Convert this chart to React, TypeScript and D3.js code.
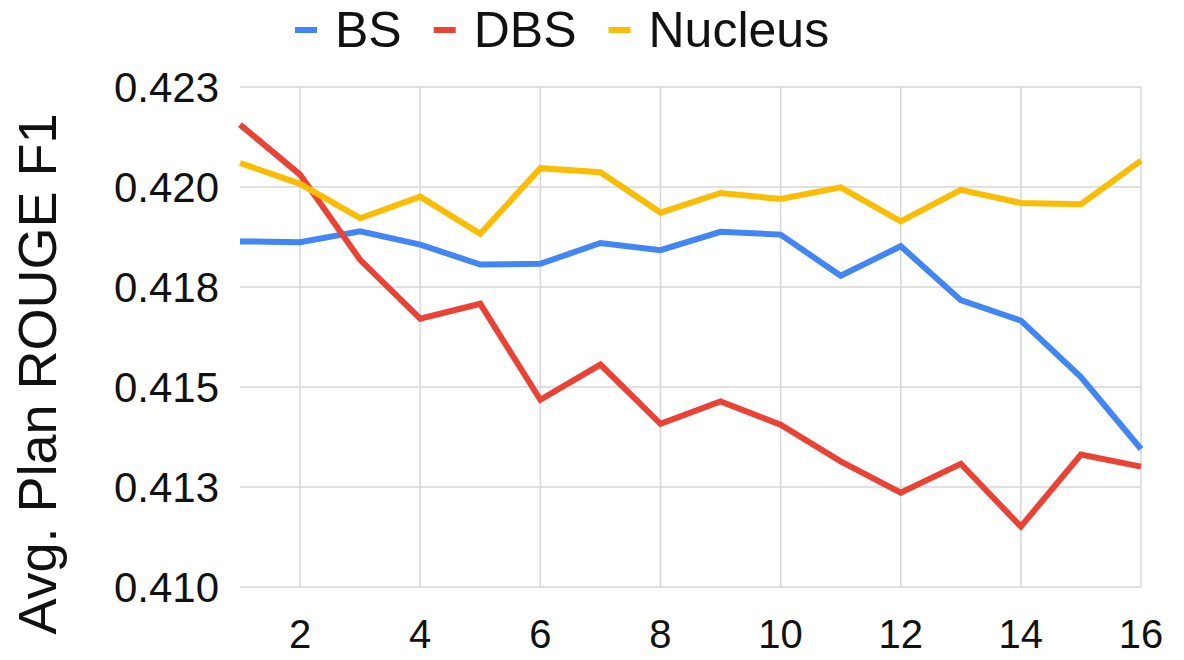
import React, { useRef, useEffect } from 'react';
import * as d3 from 'd3';

// rounds on the x axis
const steps = d3.range(1, 17);

// avg plan ROUGE F1 per series
const bsValues = [0.41864, 0.41862, 0.41889, 0.41856, 0.41806, 0.41808, 0.4186, 0.41842,
  0.41888, 0.41881, 0.41778, 0.41852, 0.41717, 0.41666, 0.41525, 0.41345];
const dbsValues = [0.42156, 0.42031, 0.41818, 0.41671, 0.41708, 0.41468, 0.41556, 0.41408,
  0.41464, 0.41406, 0.41314, 0.41236, 0.41308, 0.41151, 0.41331, 0.41301];
const nucleusValues = [0.4206, 0.42008, 0.41922, 0.41976, 0.41883, 0.42047, 0.42037, 0.41936,
  0.41985, 0.4197, 0.41999, 0.41914, 0.41993, 0.4196, 0.41957, 0.42066];

const seriesNames = ['BS', 'DBS', 'Nucleus'];
const seriesColors = ['#4285F4', '#EA4335', '#FBBC04'];

const xTicks = [2, 4, 6, 8, 10, 12, 14, 16];
const yTicks = [0.41, 0.4125, 0.415, 0.4175, 0.42, 0.4225];
const yTickLabels = ['0.410', '0.413', '0.415', '0.418', '0.420', '0.423'];

const FONT = '"Liberation Sans", Arial, sans-serif';

const App = () => {
  const ref = useRef<SVGSVGElement>(null);

  useEffect(() => {
    const svg = d3.select(ref.current);
    svg.selectAll('*').remove();

    const left = 240, right = 1141, top = 87, bottom = 587;

    const x = d3.scaleLinear().domain([1, 16]).range([left, right]);
    const y = d3.scaleLinear().domain([0.41, 0.4225]).range([bottom, top]);

    // grid
    const grid = svg.append('g').attr('stroke', '#d6d6d6').attr('stroke-width', 1.5);
    grid.selectAll('line.h')
      .data(yTicks)
      .enter().append('line')
      .attr('x1', left).attr('x2', right)
      .attr('y1', d => y(d)).attr('y2', d => y(d));
    grid.selectAll('line.v')
      .data(xTicks)
      .enter().append('line')
      .attr('x1', d => x(d)).attr('x2', d => x(d))
      .attr('y1', top).attr('y2', bottom);

    // y tick labels
    svg.append('g')
      .selectAll('text')
      .data(yTicks)
      .enter().append('text')
      .attr('x', 219)
      .attr('y', d => y(d) + 15)
      .attr('text-anchor', 'end')
      .attr('font-family', FONT)
      .attr('font-size', 42)
      .attr('fill', '#111')
      .text((d, i) => yTickLabels[i]);

    // x tick labels
    svg.append('g')
      .selectAll('text')
      .data(xTicks)
      .enter().append('text')
      .attr('x', d => x(d))
      .attr('y', 648)
      .attr('text-anchor', 'middle')
      .attr('font-family', FONT)
      .attr('font-size', 40)
      .attr('fill', '#111')
      .text(d => d);

    // axis title
    svg.append('text')
      .attr('transform', 'translate(56,374) rotate(-90)')
      .attr('text-anchor', 'middle')
      .attr('font-family', FONT)
      .attr('font-size', 54)
      .attr('fill', '#111')
      .text('Avg. Plan ROUGE F1');

    // lines
    const line = d3.line<number>()
      .x((d, i) => x(steps[i]))
      .y(d => y(d));

    [bsValues, dbsValues, nucleusValues].forEach((vals, i) => {
      svg.append('path')
        .datum(vals)
        .attr('d', line)
        .attr('fill', 'none')
        .attr('stroke', seriesColors[i])
        .attr('stroke-width', 6);
    });

    // legend
    let lx = 295;
    seriesNames.forEach((name, i) => {
      svg.append('line')
        .attr('x1', lx).attr('x2', lx + 22)
        .attr('y1', 30).attr('y2', 30)
        .attr('stroke', seriesColors[i])
        .attr('stroke-width', 6);
      const t = svg.append('text')
        .attr('x', lx + 40)
        .attr('y', 47)
        .attr('font-family', FONT)
        .attr('font-size', 50)
        .attr('fill', '#111')
        .text(name);
      const w = (t.node() as SVGTextElement).getComputedTextLength();
      lx += 40 + w + 32;
    });
  }, []);

  return (
    <svg ref={ref} width={1184} height={660}
      style={{ position: 'absolute', left: 0, top: 0, background: '#fff' }} />
  );
};

export default App;
